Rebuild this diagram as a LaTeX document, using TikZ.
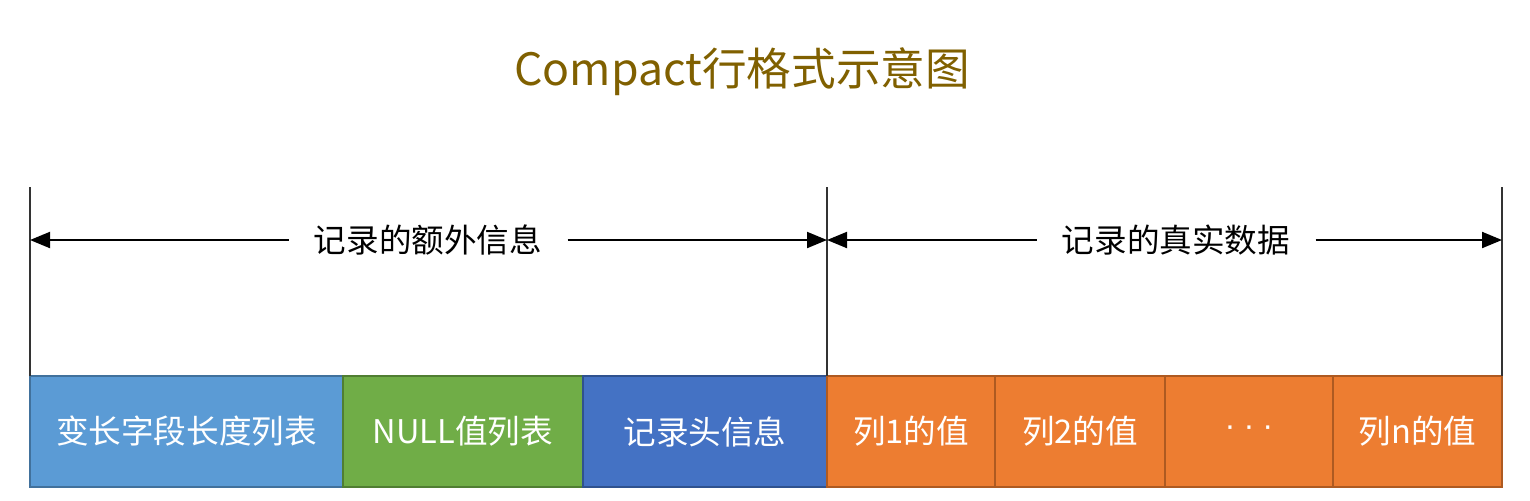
\documentclass[tikz,border=0pt]{standalone}
\usepackage{fontspec}
\setmainfont{Noto Sans CJK SC}
\newfontfamily\latinfont{Liberation Sans}
\usetikzlibrary{arrows.meta}
\definecolor{titlec}{RGB}{128,96,0}
\definecolor{c1}{RGB}{91,155,213}
\definecolor{c1b}{RGB}{65,113,156}
\definecolor{c2}{RGB}{112,173,71}
\definecolor{c2b}{RGB}{80,126,50}
\definecolor{c3}{RGB}{68,114,196}
\definecolor{c3b}{RGB}{47,82,143}
\definecolor{c4}{RGB}{237,125,49}
\definecolor{c4b}{RGB}{174,90,33}
\tikzset{
  cell/.style={rectangle, inner sep=0pt, minimum height=111*0.5pt, line width=0.8pt, text=white, font=\fontsize{16.3}{19}\selectfont},
  lab/.style={inner xsep=12.5pt, inner ysep=2pt, font=\fontsize{16.3}{19}\selectfont},
  vline/.style={line width=1pt, draw=black!80},
  arr/.style={line width=1pt, -{Triangle[length=10pt,width=8pt]}},
}
\begin{document}
\begin{tikzpicture}[x=0.5pt,y=-0.5pt]
\useasboundingbox (0,0) rectangle (1530,500);
\node[font=\fontsize{22.3}{26}\selectfont, text=titlec] (title) at (742,72) {Compact行格式示意图};
% cells
\node[cell, fill=c1, draw=c1b, minimum width=313*0.5pt] (v) at (186.5,431.5) {变长字段长度列表};
\node[cell, fill=c2, draw=c2b, minimum width=240*0.5pt] (n) at (463,431.5) {NULL值列表};
\node[cell, fill=c3, draw=c3b, minimum width=244*0.5pt] (h) at (705,431.5) {记录头信息};
\node[cell, fill=c4, draw=c4b, minimum width=168*0.5pt] (c1n) at (911,431.5) {列1的值};
\node[cell, fill=c4, draw=c4b, minimum width=170*0.5pt] (c2n) at (1080,431.5) {列2的值};
\node[cell, fill=c4, draw=c4b, minimum width=168*0.5pt] (cd) at (1249,431.5) {\latinfont ·\hspace{4pt}·\hspace{4pt}·};
\node[cell, fill=c4, draw=c4b, minimum width=169*0.5pt] (cn) at (1417.5,431.5) {列n的值};
% vertical lines
\coordinate (t1) at (30,187);   \coordinate (b1) at (30,376);
\coordinate (t2) at (827,187);  \coordinate (b2) at (827,376);
\coordinate (t3) at (1502,187); \coordinate (b3) at (1502,376);
\draw[vline] (t1) -- (b1);
\draw[vline] (t2) -- (b2);
\draw[vline] (t3) -- (b3);
\coordinate (m1) at (30,240);
\coordinate (m2) at (827,240);
\coordinate (m3) at (1502,240);
% labels
\node[lab] (l1) at (428,240) {记录的额外信息};
\node[lab] (l2) at (1176,240) {记录的真实数据};
\draw[arr] (l1.west) -- (m1);
\draw[arr] (l1.east) -- (m2);
\draw[arr] (l2.west) -- (m2);
\draw[arr] (l2.east) -- (m3);
\end{tikzpicture}
\end{document}
